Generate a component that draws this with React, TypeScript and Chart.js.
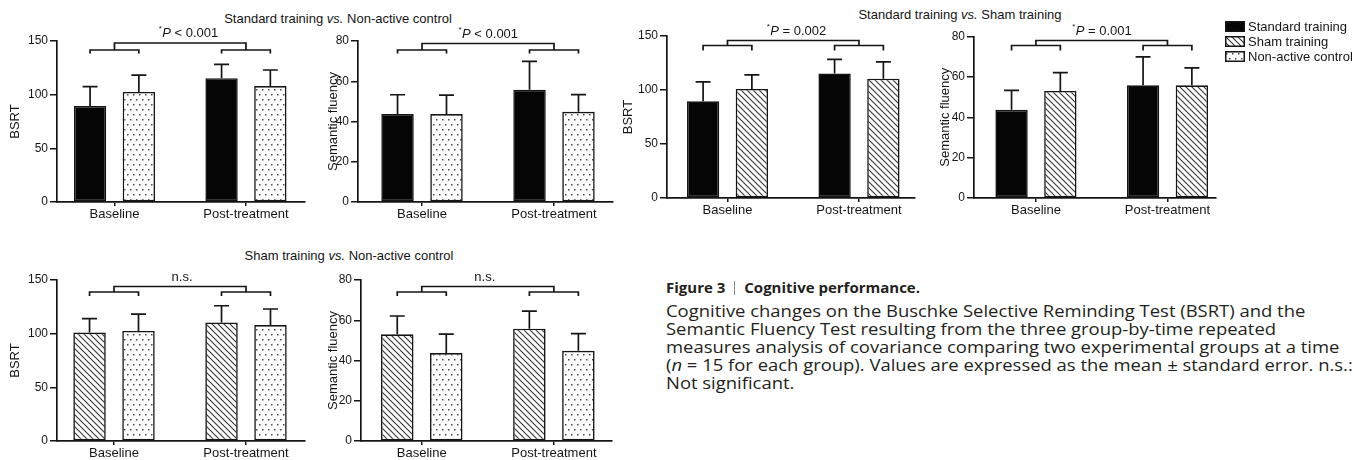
import React, { useEffect, useRef } from 'react';
import { Chart, registerables } from 'chart.js';

Chart.register(...registerables);

const FAMILY = "'Liberation Sans', Arial, Helvetica, sans-serif";
const INK = '#151515';

// ---------- data ----------
const categories = ['Baseline', 'Post-treatment'];
const groupNames = ['Standard training', 'Sham training', 'Non-active control'];

const bsrtStandardMean = [89.5, 115.3];
const bsrtStandardSE = [18, 13];
const bsrtShamMean = [101, 110.5];
const bsrtShamSE = [13, 15.5];
const bsrtControlMean = [102.6, 108];
const bsrtControlSE = [15.6, 15];

const fluencyStandardMean = [43.7, 55.8];
const fluencyStandardSE = [9.6, 14.1];
const fluencyShamMean = [53, 55.8];
const fluencyShamSE = [9.1, 8.7];
const fluencyControlMean = [43.7, 44.8];
const fluencyControlSE = [9.4, 8.6];

const bsrtAxis = { max: 150, step: 50, title: 'BSRT' };
const fluencyAxis = { max: 80, step: 20, title: 'Semantic fluency' };

const pLabels = ['< 0.001', '< 0.001', '= 0.002', '= 0.001', 'n.s.', 'n.s.'];

type Fill = 'solid' | 'hatch' | 'dots';
const groupFills: Fill[] = ['solid', 'hatch', 'dots'];

const standard = { g: 0, bsrt: [bsrtStandardMean, bsrtStandardSE], flu: [fluencyStandardMean, fluencyStandardSE] };
const sham = { g: 1, bsrt: [bsrtShamMean, bsrtShamSE], flu: [fluencyShamMean, fluencyShamSE] };
const control = { g: 2, bsrt: [bsrtControlMean, bsrtControlSE], flu: [fluencyControlMean, fluencyControlSE] };

// ---------- layout (page pixels) ----------
type Box = {
  L: number; T: number; W: number; H: number;
  left: number; top: number; right: number; bottom: number;
  titlePad: number; xMin: number; xMax: number;
  bracket: [number, number, number]; textShift: number;
};

const panelBoxes: Box[] = [
  { L: 0, T: 22, W: 312, H: 206, left: 57, top: 41, right: 305, bottom: 202, titlePad: 7.2, xMin: -0.437, xMax: 1.449, bracket: [2, 9, 12.5], textShift: 8 },
  { L: 312, T: 22, W: 303, H: 206, left: 358, top: 41, right: 613, bottom: 202, titlePad: 13.2, xMin: -0.485, xMax: 1.447, bracket: [2.5, 9, 12.5], textShift: 0 },
  { L: 615, T: 12, W: 310, H: 212, left: 667, top: 36, right: 915, bottom: 198, titlePad: 5.2, xMin: -0.46, xMax: 1.426, bracket: [4.5, 9.5, 14.5], textShift: 3 },
  { L: 925, T: 12, W: 296, H: 212, left: 974, top: 36.5, right: 1216, bottom: 198, titlePad: 12.2, xMin: -0.471, xMax: 1.369, bracket: [4, 9, 14], textShift: 0 },
  { L: 0, T: 262, W: 312, H: 198, left: 57, top: 280, right: 305, bottom: 441, titlePad: 7.2, xMin: -0.432, xMax: 1.447, bracket: [6.5, 12, 16], textShift: 2 },
  { L: 312, T: 262, W: 303, H: 198, left: 361, top: 280, right: 612, bottom: 441, titlePad: 13.2, xMin: -0.46, xMax: 1.44, bracket: [6.5, 12, 16], textShift: -3 },
];

const panels = [
  { groups: [standard, control], measure: 'bsrt' },
  { groups: [standard, control], measure: 'flu' },
  { groups: [standard, sham], measure: 'bsrt' },
  { groups: [standard, sham], measure: 'flu' },
  { groups: [sham, control], measure: 'bsrt' },
  { groups: [sham, control], measure: 'flu' },
];

// ---------- patterns ----------
function makeFill(kind: Fill): string | CanvasPattern {
  if (kind === 'solid') return '#050505';
  const tile = document.createElement('canvas');
  const g = tile.getContext('2d')!;
  if (kind === 'hatch') {
    tile.width = 6; tile.height = 6;
    g.fillStyle = '#ffffff'; g.fillRect(0, 0, 6, 6);
    g.strokeStyle = '#3a3a3a'; g.lineWidth = 1.15;
    g.beginPath();
    g.moveTo(-1, -1); g.lineTo(7, 7);
    g.moveTo(-1, 5); g.lineTo(1, 7);
    g.moveTo(5, -1); g.lineTo(7, 1);
    g.stroke();
  } else {
    tile.width = 6; tile.height = 10;
    g.fillStyle = '#ffffff'; g.fillRect(0, 0, 6, 10);
    g.fillStyle = '#4a4a4a';
    g.fillRect(1, 2, 1.5, 1.5);
    g.fillRect(4, 7, 1.5, 1.5);
  }
  const c = document.createElement('canvas').getContext('2d')!;
  return c.createPattern(tile, 'repeat')!;
}

// ---------- plugins ----------
const errorBarPlugin = {
  id: 'errorBars',
  afterDatasetsDraw(chart: any) {
    const ctx = chart.ctx;
    const y = chart.scales.y;
    chart.data.datasets.forEach((ds: any, di: number) => {
      const meta = chart.getDatasetMeta(di);
      meta.data.forEach((bar: any, i: number) => {
        const mean = ds.data[i].y;
        const se = ds.errors[i];
        const y0 = y.getPixelForValue(mean);
        const y1 = y.getPixelForValue(mean + se);
        ctx.save();
        ctx.strokeStyle = INK;
        ctx.lineWidth = 1.7;
        ctx.beginPath();
        ctx.moveTo(bar.x, y0);
        ctx.lineTo(bar.x, y1);
        ctx.moveTo(bar.x - 7.5, y1);
        ctx.lineTo(bar.x + 7.5, y1);
        ctx.stroke();
        ctx.restore();
      });
    });
  },
};

function drawPLabel(ctx: CanvasRenderingContext2D, text: string, cx: number, baseline: number) {
  ctx.fillStyle = INK;
  ctx.textBaseline = 'alphabetic';
  if (!text.startsWith('<') && !text.startsWith('=')) {
    ctx.font = `13px ${FAMILY}`;
    ctx.textAlign = 'center';
    ctx.fillText(text, cx, baseline);
    return;
  }
  const star = '*';
  const p = 'P';
  const rest = ' ' + text;
  ctx.font = `8px ${FAMILY}`;
  const ws = ctx.measureText(star).width;
  ctx.font = `italic 13px ${FAMILY}`;
  const wp = ctx.measureText(p).width;
  ctx.font = `13px ${FAMILY}`;
  const wr = ctx.measureText(rest).width;
  let x = cx - (ws + wp + wr) / 2;
  ctx.textAlign = 'left';
  ctx.font = `8px ${FAMILY}`;
  ctx.fillText(star, x, baseline - 6);
  x += ws + 0.5;
  ctx.font = `italic 13px ${FAMILY}`;
  ctx.fillText(p, x, baseline);
  x += wp;
  ctx.font = `13px ${FAMILY}`;
  ctx.fillText(rest, x, baseline);
}

const bracketPlugin = {
  id: 'brackets',
  afterDraw(chart: any, _args: any, opts: any) {
    const ctx = chart.ctx;
    const top = chart.chartArea.top;
    const m0 = chart.getDatasetMeta(0);
    const m1 = chart.getDatasetMeta(1);
    const [mainOff, subOff, tickOff] = opts.bracket;
    const mainY = top + mainOff;
    const subY = top + subOff;
    const tickY = top + tickOff;
    const centers: number[] = [];
    ctx.save();
    ctx.strokeStyle = INK;
    ctx.lineWidth = 1.7;
    ctx.beginPath();
    for (let i = 0; i < m0.data.length; i++) {
      const a = m0.data[i].x;
      const b = m1.data[i].x;
      centers.push((a + b) / 2);
      ctx.moveTo(a, tickY);
      ctx.lineTo(a, subY);
      ctx.lineTo(b, subY);
      ctx.lineTo(b, tickY);
    }
    ctx.moveTo(centers[0], subY);
    ctx.lineTo(centers[0], mainY);
    ctx.lineTo(centers[1], mainY);
    ctx.lineTo(centers[1], subY);
    ctx.stroke();
    drawPLabel(ctx, opts.label, (centers[0] + centers[1]) / 2 + opts.textShift, mainY - 6);
    ctx.restore();
  },
};

// ---------- components ----------
function Panel({ index }: { index: number }) {
  const ref = useRef<HTMLCanvasElement>(null);
  const box = panelBoxes[index];
  useEffect(() => {
    const def = panels[index];
    const axis = def.measure === 'bsrt' ? bsrtAxis : fluencyAxis;
    const chart = new Chart(ref.current!, {
      type: 'bar',
      data: {
        datasets: def.groups.map((grp: any) => {
          const [mean, se] = grp[def.measure];
          return {
            label: groupNames[grp.g],
            data: mean.map((v: number, i: number) => ({ x: i, y: v })),
            errors: se,
            backgroundColor: makeFill(groupFills[grp.g]),
            borderColor: INK,
            borderWidth: 1.6,
            borderSkipped: false,
            categoryPercentage: 0.742,
            barPercentage: 0.663,
          } as any;
        }),
      },
      options: {
        animation: false,
        responsive: false,
        maintainAspectRatio: false,
        events: [],
        layout: { padding: { left: 0, top: box.top - box.T, right: box.L + box.W - box.right, bottom: 0 } },
        plugins: {
          legend: { display: false },
          tooltip: { enabled: false },
          brackets: { bracket: box.bracket, label: pLabels[index], textShift: box.textShift },
        } as any,
        scales: {
          x: {
            type: 'linear',
            offset: false,
            bounds: 'data',
            min: box.xMin,
            max: box.xMax,
            afterBuildTicks: (s: any) => { s.ticks = categories.map((_, i) => ({ value: i })); },
            afterFit: (s: any) => { s.height = box.T + box.H - box.bottom; },
            ticks: {
              callback: (v: any) => categories[v] ?? '',
              font: { family: FAMILY, size: 13 },
              color: INK,
              padding: 1,
              autoSkip: false,
              maxRotation: 0,
            },
            grid: { display: true, offset: false, drawOnChartArea: false, drawTicks: true, tickLength: 4, color: INK, lineWidth: 1.5 },
            border: { display: true, color: INK, width: 1.7 },
          },
          y: {
            min: 0,
            max: axis.max,
            afterFit: (s: any) => { s.width = box.left - box.L; },
            ticks: { stepSize: axis.step, font: { family: FAMILY, size: 12 }, color: INK, padding: 2 },
            grid: { display: true, drawOnChartArea: false, drawTicks: true, tickLength: 7, color: INK, lineWidth: 1.5 },
            border: { display: true, color: INK, width: 1.7 },
            title: {
              display: true,
              text: axis.title,
              font: { family: FAMILY, size: 13 },
              color: INK,
              padding: { top: box.titlePad, bottom: 0 },
            },
          },
        } as any,
      },
      plugins: [errorBarPlugin, bracketPlugin],
    });
    return () => chart.destroy();
  }, [index]);
  return (
    <canvas
      ref={ref}
      width={box.W}
      height={box.H}
      style={{ position: 'absolute', left: box.L, top: box.T, width: box.W, height: box.H }}
    />
  );
}

function Swatch({ kind }: { kind: Fill }) {
  const ref = useRef<HTMLCanvasElement>(null);
  useEffect(() => {
    const c = ref.current!;
    const g = c.getContext('2d')!;
    g.clearRect(0, 0, c.width, c.height);
    g.fillStyle = makeFill(kind) as any;
    g.fillRect(0, 0, 20, 11);
    g.strokeStyle = INK;
    g.lineWidth = 1.5;
    g.strokeRect(0.75, 0.75, 18.5, 9.5);
  }, [kind]);
  return <canvas ref={ref} width={20} height={11} style={{ width: 20, height: 11, display: 'block' }} />;
}

const titleStyle: React.CSSProperties = {
  position: 'absolute',
  transform: 'translateX(-50%)',
  whiteSpace: 'nowrap',
  font: `13px ${FAMILY}`,
  lineHeight: '15px',
  color: INK,
};

export default function App() {
  return (
    <div
      style={{
        position: 'absolute',
        left: 0,
        top: 0,
        width: 1354,
        height: 460,
        overflow: 'hidden',
        background: '#ffffff',
      }}
    >
      <div style={{ ...titleStyle, left: 338, top: 11 }}>
        {groupNames[0]} <i>vs.</i> {groupNames[2]}
      </div>
      <div style={{ ...titleStyle, left: 960, top: 6.5 }}>
        {groupNames[0]} <i>vs.</i> {groupNames[1]}
      </div>
      <div style={{ ...titleStyle, left: 349, top: 247.5 }}>
        {groupNames[1]} <i>vs.</i> {groupNames[2]}
      </div>

      {panelBoxes.map((_, i) => (
        <Panel key={i} index={i} />
      ))}

      <div style={{ position: 'absolute', left: 1225, top: 18.5, font: `13px ${FAMILY}`, color: INK }}>
        {groupNames.map((n, i) => (
          <div key={n} style={{ display: 'flex', alignItems: 'center', height: 15, whiteSpace: 'nowrap' }}>
            <Swatch kind={groupFills[i]} />
            <span style={{ marginLeft: 3, lineHeight: '15px' }}>{n}</span>
          </div>
        ))}
      </div>

      <div
        style={{
          position: 'absolute',
          left: 666,
          top: 278,
          fontFamily: "'Open Sans', 'Noto Sans', sans-serif",
          color: '#231f20',
          whiteSpace: 'nowrap',
        }}
      >
        <div style={{ fontSize: 15, fontWeight: 700, lineHeight: '18px', marginBottom: 6 }}>
          Figure 3
          <span style={{ display: 'inline-block', width: 1, height: 14, background: '#888', margin: '0 9px', verticalAlign: -2 }} />
          Cognitive performance.
        </div>
        <div style={{ fontSize: 16, lineHeight: '18px', transform: 'scaleX(1.152)', transformOrigin: '0 0' }}>
          <div>Cognitive changes on the Buschke Selective Reminding Test (BSRT) and the</div>
          <div>Semantic Fluency Test resulting from the three group-by-time repeated</div>
          <div>measures analysis of covariance comparing two experimental groups at a time</div>
          <div>
            (<i>n</i> = 15 for each group). Values are expressed as the mean ± standard error. n.s.:
          </div>
          <div>Not significant.</div>
        </div>
      </div>
    </div>
  );
}
